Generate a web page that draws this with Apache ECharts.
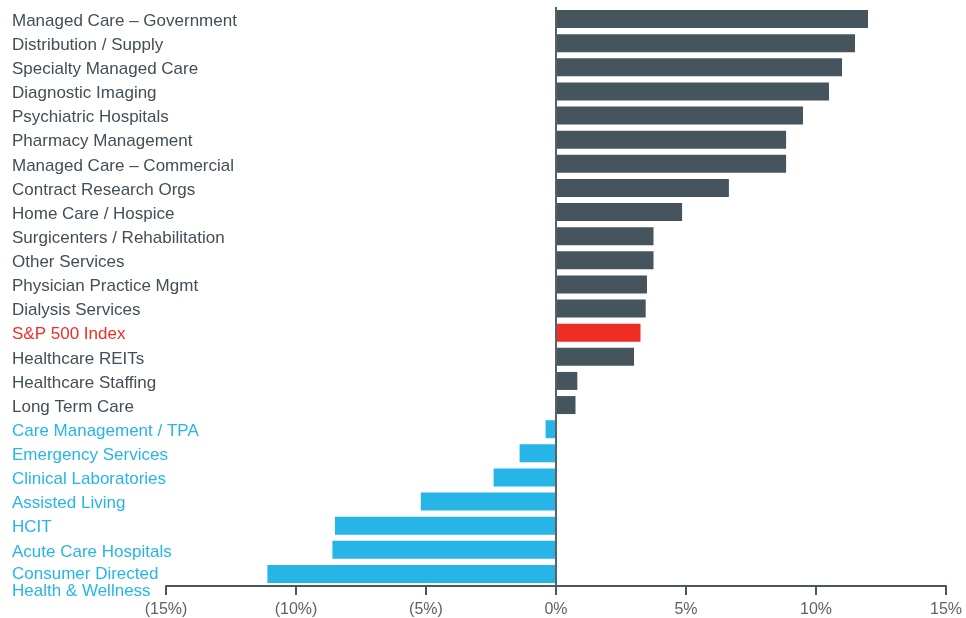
<!DOCTYPE html>
<html><head><meta charset="utf-8">
<script src="https://cdn.jsdelivr.net/npm/echarts@6/dist/echarts.min.js"></script>
<style>html,body{margin:0;padding:0;background:#fff}#c{width:966px;height:618px}</style>
</head><body><div id="c"></div>
<script>
const categories = [
  "Managed Care – Government","Distribution / Supply","Specialty Managed Care","Diagnostic Imaging",
  "Psychiatric Hospitals","Pharmacy Management","Managed Care – Commercial","Contract Research Orgs",
  "Home Care / Hospice","Surgicenters / Rehabilitation","Other Services","Physician Practice Mgmt",
  "Dialysis Services","S&P 500 Index","Healthcare REITs","Healthcare Staffing","Long Term Care",
  "Care Management / TPA","Emergency Services","Clinical Laboratories","Assisted Living","HCIT",
  "Acute Care Hospitals","Consumer Directed\nHealth & Wellness"
];
const values = [12.0,11.5,11.0,10.5,9.5,8.85,8.85,6.65,4.85,3.75,3.75,3.5,3.45,3.25,3.0,0.82,0.75,
  -0.4,-1.4,-2.4,-5.2,-8.5,-8.6,-11.1];
const indexName = "S&P 500 Index";
const xTicks = [-15,-10,-5,0,5,10,15];

const DARK = '#46545e', BLUE = '#27b5e8', RED = '#ee2e24', TEXT = '#434e57';
function colorFor(name, v){ return name === indexName ? RED : (v < 0 ? BLUE : DARK); }
function textColorFor(name, v){ return name === indexName ? RED : (v < 0 ? BLUE : TEXT); }

const yData = categories.map((c,i)=>({value:c, textStyle:{color: textColorFor(c, values[i]), align:'left'}}));

function fmtLabel(v){
  const lines = v.split('\n');
  if (lines.length === 1) return '{a|' + v + '}';
  return [' '].concat(lines).map(s => '{b|' + s + '}').join('\n');
}

const chart = echarts.init(document.getElementById('c'));
chart.setOption({
  animation:false,
  grid:{left:166,right:20,top:7,bottom:32,containLabel:false,outerBoundsMode:'none'},
  xAxis:{type:'value',min:xTicks[0],max:xTicks[xTicks.length-1],interval:xTicks[1]-xTicks[0],
    axisLine:{show:true,onZero:false,lineStyle:{color:'#4a5660',width:2}},
    axisTick:{show:true,length:9,lineStyle:{color:'#4a5660',width:2}},
    splitLine:{show:false},
    axisLabel:{margin:16,fontFamily:'Liberation Sans',fontSize:16,color:'#5a6369',
      formatter:v=> v<0 ? '('+Math.abs(v)+'%)' : v+'%'}},
  yAxis:{type:'category',inverse:true,data:yData,
    axisLine:{show:false,onZero:false},axisTick:{show:false},
    axisLabel:{interval:0,hideOverlap:false,align:'left',margin:154,
      fontFamily:'Liberation Sans',fontSize:17,lineHeight:17,color:TEXT,
      formatter:fmtLabel,
      rich:{
        a:{fontFamily:'Liberation Sans',fontSize:17,lineHeight:13,padding:[4,0,0,0]},
        b:{fontFamily:'Liberation Sans',fontSize:17,lineHeight:17}
      }}},
  series:[{type:'bar',barWidth:18,
    data:values.map((v,i)=>({value:v,itemStyle:{color:colorFor(categories[i],v)}})),
    markLine:{silent:true,symbol:'none',label:{show:false},
      lineStyle:{color:'#56626b',width:2,type:'solid'},data:[{xAxis:0}]}
  }]
});
</script></body></html>
